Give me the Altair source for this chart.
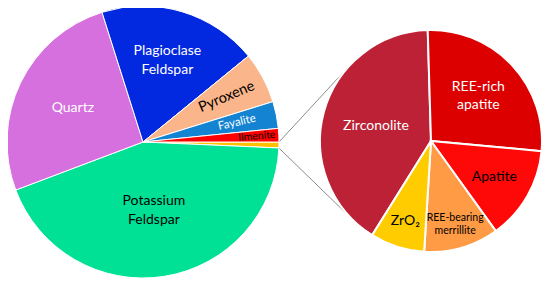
import math
import altair as alt
import pandas as pd

# ---------------- data ----------------
left_names = ["Accessory minerals", "Potassium Feldspar", "Quartz",
              "Plagioclase Feldspar", "Pyroxene", "Fayalite", "Ilmenite"]
left_values = [0.7, 43.6, 25.9, 19.0, 6.1, 3.2, 1.6]
left_text = ["", "Potassium\nFeldspar", "Quartz", "Plagioclase\nFeldspar",
             "Pyroxene", "Fayalite", "Ilmenite"]

right_names = ["Zirconolite", "REE-rich apatite", "Apatite",
               "REE-bearing merrillite", "ZrO2"]
right_values = [40.6, 26.9, 13.6, 10.9, 7.9]
right_text = ["Zirconolite", "REE-rich\napatite", "Apatite",
              "REE-bearing\nmerrillite", "ZrO\u2082"]

# ---------------- styles ----------------
left_colors = ["#FFC000", "#00E196", "#D670DE", "#0228E0", "#FBB58A", "#1483D2", "#FF0000"]
left_text_colors = ["black", "black", "white", "white", "black", "white", "black"]
left_font_sizes = [10, 14, 14, 14, 14.5, 11.5, 10.5]
left_line_height = [12, 19, 19, 19, 19, 14, 12]
left_label_radius = [100, 69, 78, 85, 95, 96, 114]
left_label_angle = [0, 0, 0, 0, 337, 347, 355]

right_colors = ["#BC2136", "#DC0000", "#FF0808", "#FF9A45", "#FFCC00"]
right_text_colors = ["white", "white", "black", "black", "black"]
right_font_sizes = [14, 14, 14, 10.5, 14]
right_line_height = [18, 18, 18, 12.5, 18]
right_label_radius = [57, 65, 73, 87, 84]
right_label_angle = [0, 0, 0, 0, 0]

FONT = "Lato"
W, H = 534, 275
LCX, LCY, LR = 135, 134, 136
RCX, RCY, RR = 423, 133, 111
L_START = 90.0   # degrees, clockwise from 12 o'clock
R_START = 212.0


def rad(d):
    return d * math.pi / 180.0


def mid_angles(values, start):
    total = sum(values)
    out, cum = [], 0.0
    for v in values:
        out.append(rad(start) + 2 * math.pi * (cum + v / 2.0) / total)
        cum += v
    return out


def make_df(names, values, texts, colors, tcolors, fss, lhs, lrs, angs, start):
    return pd.DataFrame({
        "name": names, "value": values, "text": texts, "color": colors,
        "tcolor": tcolors, "fs": fss, "lh": lhs, "lr": lrs, "ang": angs,
        "mid": mid_angles(values, start), "order": list(range(len(names))),
    })


left_df = make_df(left_names, left_values, left_text, left_colors, left_text_colors,
                  left_font_sizes, left_line_height, left_label_radius,
                  left_label_angle, L_START)
right_df = make_df(right_names, right_values, right_text, right_colors,
                   right_text_colors, right_font_sizes, right_line_height,
                   right_label_radius, right_label_angle, R_START)


def pie(df, start, cx, cy, r, stroke_w):
    return alt.Chart(df).mark_arc(radius=r, stroke="white", strokeWidth=stroke_w).encode(
        theta=alt.Theta("value:Q", stack=True,
                        scale=alt.Scale(range=[rad(start), rad(start) + 2 * math.pi])),
        order=alt.Order("order:Q"),
        color=alt.Color("color:N", scale=None),
        x=alt.value(cx), y=alt.value(cy),
    )


def labels(df, cx, cy):
    """One text layer per (line count, line height) group so the block is centred."""
    layers = []
    df = df.copy()
    df["nlines"] = [t.count("\n") + 1 for t in df["text"]]
    groups = sorted(set(zip(df["nlines"], df["lh"])))
    for i, (n, lh) in enumerate(groups):
        col = f"t{i}"
        df[col] = [t if (nl == n and h == lh) else ""
                   for t, nl, h in zip(df["text"], df["nlines"], df["lh"])]
    for i, (n, lh) in enumerate(groups):
        col = f"t{i}"
        layers.append(
            alt.Chart(df).mark_text(font=FONT, lineBreak="\n", lineHeight=lh,
                                    dy=-(n - 1) * lh / 2.0,
                                    align="center", baseline="middle").encode(
                text=f"{col}:N",
                theta=alt.Theta("mid:Q", scale=None),
                radius=alt.Radius("lr:Q", scale=None),
                color=alt.Color("tcolor:N", scale=None),
                size=alt.Size("fs:Q", scale=None),
                angle=alt.Angle("ang:Q", scale=None),
                x=alt.value(cx), y=alt.value(cy),
            )
        )
    return layers


left = alt.layer(pie(left_df, L_START, LCX, LCY, LR, 1), *labels(left_df, LCX, LCY))
right = alt.layer(pie(right_df, R_START, RCX, RCY, RR, 2), *labels(right_df, RCX, RCY))

# ---------------- connector lines ----------------
acc_end = L_START + 360.0 * left_values[0] / sum(left_values)
p1 = (LCX + LR * math.sin(rad(L_START)), LCY - LR * math.cos(rad(L_START)))
p2 = (LCX + LR * math.sin(rad(acc_end)), LCY - LR * math.cos(rad(acc_end)))


def tangent(p, upper):
    dx, dy = RCX - p[0], RCY - p[1]
    d = math.hypot(dx, dy)
    phi = math.acos(RR / d)
    base = math.atan2(-dy, -dx)
    a = base + phi if upper else base - phi
    return (RCX + RR * math.cos(a), RCY + RR * math.sin(a))


t1 = tangent(p1, upper=True)
t2 = tangent(p2, upper=False)

dummy = pd.DataFrame({"k": [0]})
rule1 = alt.Chart(dummy).mark_rule(color="#8C8C8C", strokeWidth=1).encode(
    x=alt.value(p1[0]), y=alt.value(p1[1]), x2=alt.value(t1[0]), y2=alt.value(t1[1]))
rule2 = alt.Chart(dummy).mark_rule(color="#8C8C8C", strokeWidth=1).encode(
    x=alt.value(p2[0]), y=alt.value(p2[1]), x2=alt.value(t2[0]), y2=alt.value(t2[1]))

chart = alt.layer(rule1, rule2, left, right).resolve_scale(
    theta="independent"
).properties(
    width=W, height=H, padding=0, background="white",
    autosize=alt.AutoSizeParams(type="none"),
).configure_view(stroke=None)

chart.save("out.html", embed_options={"renderer": "svg", "actions": False})
